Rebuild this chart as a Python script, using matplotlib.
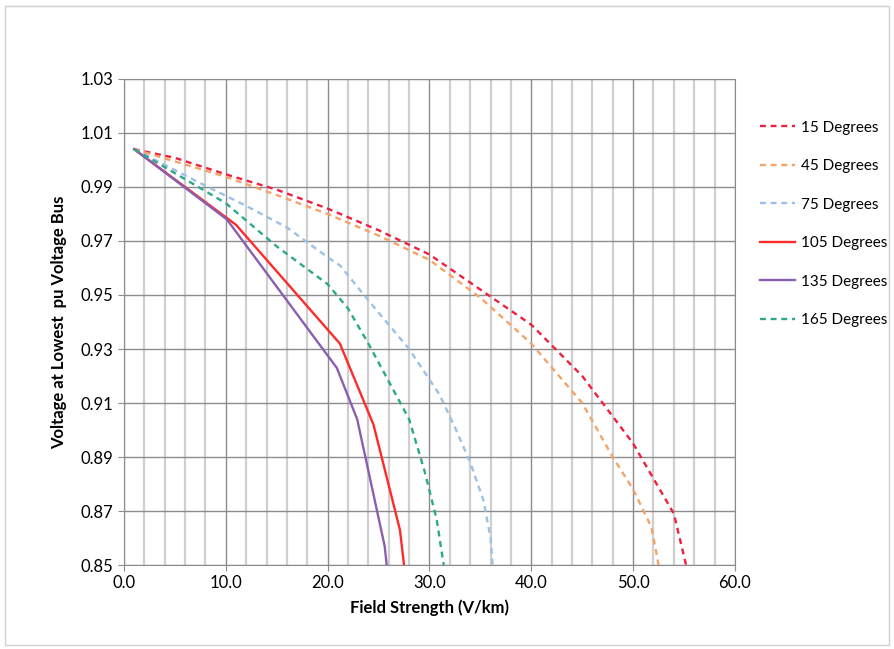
import numpy as np
import matplotlib.pyplot as plt
from matplotlib.ticker import MultipleLocator, FormatStrFormatter
from matplotlib.patches import Rectangle

# curve data (field strength V/km, voltage pu)
x15 = [1, 5, 10, 15, 20, 25, 30, 35, 40, 45, 50, 54, 55.2]
y15 = [1.004, 1.0008, 0.9947, 0.989, 0.982, 0.974, 0.965, 0.952, 0.939, 0.920, 0.895, 0.869, 0.85]

x45 = [1, 10, 15, 20, 25, 30, 35, 40, 45, 48, 50, 51.8, 52.5]
y45 = [1.004, 0.9938, 0.987, 0.980, 0.972, 0.963, 0.949, 0.932, 0.910, 0.890, 0.878, 0.864, 0.85]

x75 = [1, 7.5, 12, 16, 20, 21.2, 24, 28, 31, 32.5, 34, 35.3, 36, 36.2]
y75 = [1.004, 0.9914, 0.983, 0.975, 0.964, 0.961, 0.948, 0.930, 0.913, 0.901, 0.888, 0.874, 0.860, 0.85]

x105 = [1, 11, 21.2, 24.5, 27.1, 27.5]
y105 = [1.004, 0.976, 0.932, 0.902, 0.863, 0.85]

x135 = [1, 10.1, 20.9, 22.9, 25.6, 25.8]
y135 = [1.004, 0.978, 0.923, 0.904, 0.857, 0.85]

x165 = [1, 10, 15, 20, 22, 24, 26, 28, 29.5, 30.7, 31.4]
y165 = [1.004, 0.984, 0.968, 0.954, 0.945, 0.932, 0.918, 0.904, 0.885, 0.867, 0.85]

plt.rcParams['font.family'] = ['Lato', 'DejaVu Sans']

fig = plt.figure(figsize=(8.94, 6.49), dpi=100)
ax = fig.add_axes([0.1387, 0.1294, 0.6834, 0.7489])

# outer chart border
fig.patches.append(Rectangle((0.006, 0.006), 0.988, 0.985, transform=fig.transFigure,
                             fill=False, edgecolor='#d0d0d0', linewidth=1))

dash = (0, (2.5, 2))
ax.plot(x15, y15, color='#ee2040', ls=dash, lw=1.7, label='15 Degrees')
ax.plot(x45, y45, color='#f5a468', ls=dash, lw=1.7, label='45 Degrees')
ax.plot(x75, y75, color='#9dc0e4', ls=dash, lw=1.7, label='75 Degrees')
ax.plot(x105, y105, color='#ff2a2a', lw=1.7, label='105 Degrees')
ax.plot(x135, y135, color='#8a5fb0', lw=1.7, label='135 Degrees')
ax.plot(x165, y165, color='#2ea88a', ls=dash, lw=1.7, label='165 Degrees')

ax.set_xlim(0, 60)
ax.set_ylim(0.85, 1.03)
ax.xaxis.set_major_locator(MultipleLocator(10))
ax.xaxis.set_minor_locator(MultipleLocator(2))
ax.set_yticks(np.linspace(0.85, 1.03, 10))
ax.xaxis.set_major_formatter(FormatStrFormatter('%.1f'))
ax.yaxis.set_major_formatter(FormatStrFormatter('%.2f'))

ax.grid(which='major', color='#8c8c8c', lw=1.0)
ax.grid(which='minor', axis='x', color='#cfcfcf', lw=1.6)
ax.set_axisbelow(True)
for s in ax.spines.values():
    s.set_color('#8c8c8c')

ax.tick_params(which='major', labelsize=12, length=4, color='#8c8c8c')
ax.tick_params(which='minor', length=0)

ax.set_xlabel('Field Strength (V/km)', fontsize=12, fontweight='bold', labelpad=6)
ax.set_ylabel('Voltage at Lowest  pu Voltage Bus', fontsize=12, fontweight='bold', labelpad=10)

fig.legend(loc='upper left', bbox_to_anchor=(0.835, 0.835), frameon=False,
           fontsize=11, handlelength=2.3, handletextpad=0.4, labelspacing=1.6)

fig.savefig('out.png', dpi=100)
